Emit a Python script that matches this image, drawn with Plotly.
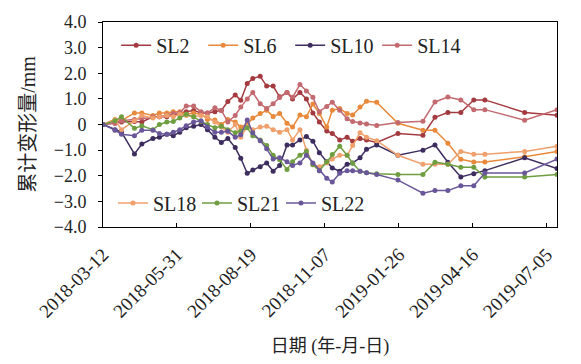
import plotly.graph_objects as go

dates = ["2018-03-12","2018-03-25","2018-04-01","2018-04-15","2018-04-23","2018-05-05","2018-05-12","2018-05-20",
         "2018-05-27","2018-06-03","2018-06-10","2018-06-18","2018-06-26","2018-07-03","2018-07-11","2018-07-18",
         "2018-07-25","2018-08-02","2018-08-08","2018-08-15","2018-08-21","2018-08-29","2018-09-05","2018-09-12",
         "2018-09-19","2018-09-27","2018-10-03","2018-10-11","2018-10-18","2018-10-25","2018-11-01","2018-11-09",
         "2018-11-15","2018-11-23","2018-12-01","2018-12-07","2018-12-15","2018-12-22","2019-01-02","2019-01-25",
         "2019-02-21","2019-03-06","2019-03-20","2019-04-03","2019-04-17","2019-04-29","2019-06-11","2019-07-16"]

SL2 = [0, 0.05, 0.1, 0.12, 0.1, 0.3, 0.3, 0.3, 0.35, 0.45, 0.5, 0.55, 0.45, 0.45, 0.5, 0.55,
       0.9, 1.15, 0.95, 1.6, 1.8, 1.88, 1.5, 1.5, 1.08, 1.25, 1.0, 1.25, 1.0, 0.45, 0.1, -0.25,
       -0.35, -0.6, -0.5, -0.65, -0.55, -0.6, -0.7, -0.35, -0.42, 0.28, 0.47, 0.47, 0.96, 0.96, 0.47, 0.36]
SL6 = [0, 0.2, 0.15, 0.45, 0.45, 0.35, 0.45, 0.45, 0.5, 0.5, 0.4, 0.45, 0.4, 0.2, 0.18, 0.0,
       0.2, 0.1, -0.1, 0.0, 0.25, 0.43, 0.56, 0.31, 0.43, 0.05, -0.1, 0.37, 0.3, 0.8, 0.43, -0.1,
       0.56, 0.62, 0.43, 0.37, 0.68, 0.91, 0.87, 0.05, -0.22, -0.22, -0.73, -1.36, -1.46, -1.46, -1.26, -1.05]
SL10 = [0, -0.2, -0.3, -1.15, -0.76, -0.55, -0.5, -0.38, -0.44, -0.3, -0.13, -0.07, 0.0, -0.2, -0.5, -0.7,
        -0.55, -0.9, -1.32, -1.9, -1.78, -1.65, -1.5, -1.82, -1.6, -0.8, -0.8, -0.6, -0.47, -0.65, -1.1, -1.45,
        -1.7, -1.82, -1.55, -1.5, -1.3, -0.97, -0.8, -1.2, -1.0, -0.8, -1.47, -2.05, -1.92, -1.8, -1.3, -1.72]
SL14 = [0, 0.05, 0.15, 0.2, 0.25, 0.3, 0.3, 0.37, 0.43, 0.46, 0.72, 0.72, 0.5, 0.45, 0.65, 0.55,
        0.1, 0.35, 0.68, 1.0, 1.25, 0.81, 0.62, 0.81, 1.05, 1.25, 1.06, 1.56, 1.31, 1.06, 0.5, 0.7,
        0.87, 0.56, 0.22, 0.12, 0.06, 0.02, -0.04, 0.08, 0.13, 0.88, 1.07, 0.96, 0.58, 0.58, 0.17, 0.58]
SL18 = [0, 0.18, -0.2, 0.15, 0.35, 0.25, 0.3, 0.35, 0.3, 0.4, 0.35, 0.3, 0.35, 0.3, 0.1, -0.1,
        -0.3, 0.0, -0.5, -0.07, -0.2, -0.1, -0.07, -0.2, -0.3, -0.2, -0.6, -0.2, -1.0, -1.57, -1.65, -1.5,
        -1.35, -1.2, -1.2, -0.82, -0.32, -0.5, -0.63, -1.2, -1.55, -1.55, -1.55, -1.05, -1.16, -1.16, -1.05, -0.85]
SL21 = [0, 0.15, 0.3, -0.15, -0.05, -0.2, 0.0, 0.1, 0.12, 0.25, 0.4, 0.3, 0.12, 0.0, -0.13, -0.07,
        -0.2, -0.32, -0.25, -0.13, -0.44, -0.6, -0.82, -1.2, -1.38, -1.76, -1.45, -1.2, -1.05, -1.57, -1.8, -1.45,
        -1.17, -0.85, -1.2, -1.51, -1.82, -1.88, -1.92, -1.95, -1.95, -1.47, -1.55, -1.67, -1.67, -2.05, -2.05, -1.95]
SL22 = [0, -0.22, -0.38, -0.44, -0.22, -0.22, -0.35, -0.38, -0.3, -0.2, -0.05, 0.1, 0.15, -0.1, -0.3, -0.3,
        -0.26, -0.5, -0.4, 0.18, -0.32, -0.63, -0.95, -1.35, -1.3, -1.45, -1.6, -1.5, -1.2, -1.5, -1.8, -2.1,
        -2.24, -1.9, -1.8, -1.8, -1.82, -1.88, -1.95, -2.17, -2.68, -2.58, -2.58, -2.39, -2.39, -1.89, -1.89, -1.35]

series_top = [("SL2", SL2, "#A33A3F"), ("SL6", SL6, "#E8893B"), ("SL10", SL10, "#3D2D5F"), ("SL14", SL14, "#C26A70")]
series_bot = [("SL18", SL18, "#EFA06C"), ("SL21", SL21, "#6F9E40"), ("SL22", SL22, "#6A5799")]

x_ticks = ["2018-03-12", "2018-05-31", "2018-08-19", "2018-11-07", "2019-01-26", "2019-04-16", "2019-07-05"]
y_vals = [-4, -3, -2, -1, 0, 1, 2, 3, 4]
y_text = ["−4.0", "−3.0", "−2.0", "−1.0", "0", "1.0", "2.0", "3.0", "4.0"]

serif = "Liberation Serif, Times New Roman, Noto Sans CJK SC, serif"

fig = go.Figure()
for name, vals, col in series_top:
    fig.add_trace(go.Scatter(x=dates, y=vals, name=name, mode="lines+markers",
                             line=dict(color=col, width=1.5), marker=dict(color=col, size=5),
                             legend="legend"))
for name, vals, col in series_bot:
    fig.add_trace(go.Scatter(x=dates, y=vals, name=name, mode="lines+markers",
                             line=dict(color=col, width=1.5), marker=dict(color=col, size=5),
                             legend="legend2"))

fig.update_layout(
    width=581, height=364,
    margin=dict(l=103, r=24, t=15, b=136),
    paper_bgcolor="white", plot_bgcolor="white",
    font=dict(family=serif, size=16, color="#222"),
    legend=dict(orientation="h", x=0.029, xanchor="left", y=0.887, yanchor="middle",
                font=dict(size=20, family=serif), entrywidth=42, bgcolor="rgba(0,0,0,0)",
                traceorder="normal"),
    legend2=dict(orientation="h", x=0.022, xanchor="left", y=0.117, yanchor="middle",
                 font=dict(size=20, family=serif), entrywidth=39, bgcolor="rgba(0,0,0,0)",
                 traceorder="normal"),
    showlegend=True,
)
fig.update_xaxes(type="date", range=["2018-03-12", "2019-07-16"], tickvals=x_ticks, ticktext=x_ticks,
                 tickangle=-45, ticks="inside", ticklen=4, tickcolor="black",
                 showline=True, linecolor="black", linewidth=1, mirror=True, showgrid=False, zeroline=False,
                 tickfont=dict(size=19, family=serif), ticklabelstandoff=8,
                 title=dict(text="日期 (年-月-日)", font=dict(size=18, family=serif), standoff=18))
fig.update_yaxes(range=[-4, 4], tickvals=y_vals, ticktext=y_text,
                 ticks="outside", ticklen=4, tickcolor="black",
                 showline=True, linecolor="black", linewidth=1, mirror=True, showgrid=False, zeroline=False,
                 tickfont=dict(size=18, family=serif), ticklabelstandoff=8,
                 title=dict(text="累计变形量/mm", font=dict(size=20, family=serif), standoff=12))

fig.write_html("out.html")
